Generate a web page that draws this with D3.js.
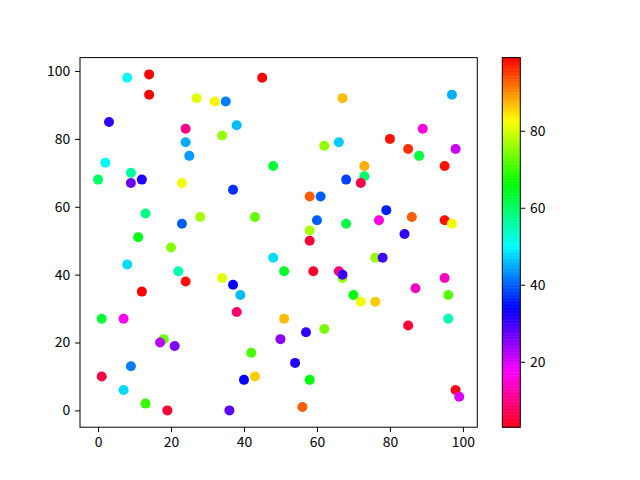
<!DOCTYPE html>
<html>
<head>
<meta charset="utf-8">
<script src="https://cdn.jsdelivr.net/npm/d3@7"></script>
<style>
  body { margin: 0; background: #fff; }
  svg text { font-family: "Noto Sans CJK SC", "Noto Sans", sans-serif; font-size: 13.9px; fill: #000; }
</style>
</head>
<body>
<div id="chart"></div>
<script>
// scatter values
const xs = [8, 14, 14, 45, 27, 32, 35, 3, 24, 38, 34, 24, 25, 2, 48, 0, 9, 9, 12, 23,
  37, 13, 23, 28, 43, 11, 20, 67, 97, 89, 62, 66, 80, 85, 88, 98, 95, 73, 73, 68,
  72, 58, 61, 79, 86, 60, 68, 77, 95, 97, 84, 58, 58, 8, 48, 22, 24, 34, 37, 39,
  12, 1, 7, 38, 18, 17, 21, 42, 9, 1, 40, 43, 7, 13, 19, 36, 50, 51, 51, 59,
  67, 66, 67, 76, 78, 95, 87, 96, 70, 72, 76, 96, 85, 62, 57, 54, 58, 56, 98, 99];
const ys = [98, 99, 93, 98, 92, 91, 91, 85, 83, 84, 81, 79, 75, 73, 72, 68, 70, 67, 68, 67,
  65, 58, 55, 57, 57, 51, 48, 92, 93, 83, 78, 79, 80, 77, 75, 77, 72, 72, 69, 68,
  67, 63, 63, 59, 57, 56, 55, 56, 56, 55, 52, 53, 50, 43, 45, 41, 38, 39, 37, 34,
  35, 27, 27, 29, 21, 20, 19, 17, 13, 10, 9, 10, 6, 2, 0, 0, 21, 27, 41, 41,
  39, 41, 40, 45, 45, 39, 36, 34, 34, 32, 32, 27, 25, 24, 23, 14, 9, 1, 6, 4];
const cs = [51, 99, 99, 99, 81, 83, 42, 31, 10, 46, 76, 45, 44, 50, 63, 60, 56, 27, 32, 82,
  37, 58, 40, 77, 73, 65, 75, 87, 45, 16, 76, 47, 98, 96, 63, 21, 98, 88, 60, 38,
  6, 93, 40, 36, 93, 40, 62, 16, 98, 82, 31, 77, 5, 48, 48, 55, 98, 81, 34, 46,
  99, 63, 17, 8, 73, 22, 26, 71, 42, 6, 34, 86, 48, 70, 5, 28, 25, 87, 64, 4,
  76, 9, 30, 76, 30, 14, 14, 72, 66, 82, 86, 55, 5, 74, 31, 32, 66, 93, 3, 20];
const xTicks = [0, 20, 40, 60, 80, 100];
const yTicks = [0, 20, 40, 60, 80, 100];
const cTicks = [20, 40, 60, 80];

// matplotlib "hsv" segment data, used reversed
const hsvSeg = {
  r: [[0, 1], [0.158730, 1], [0.174603, 0.96875], [0.333333, 0.03125], [0.349206, 0], [0.666667, 0], [0.682540, 0.03125], [0.841270, 0.96875], [0.857143, 1], [1, 1]],
  g: [[0, 0], [0.158730, 0.9375], [0.174603, 1], [0.507937, 1], [0.666667, 0.0625], [0.682540, 0], [1, 0]],
  b: [[0, 0], [0.333333, 0], [0.349206, 0.0625], [0.507937, 1], [0.841270, 1], [0.857143, 0.9375], [1, 0.09375]]
};
function segVal(seg, t) {
  for (let i = 1; i < seg.length; i++) {
    if (t <= seg[i][0]) {
      const [x0, y0] = seg[i - 1], [x1, y1] = seg[i];
      return y0 + (y1 - y0) * (t - x0) / (x1 - x0);
    }
  }
  return seg[seg.length - 1][1];
}
function hsvR(t) {
  const u = 1 - Math.max(0, Math.min(1, t));
  return d3.rgb(segVal(hsvSeg.r, u) * 255, segVal(hsvSeg.g, u) * 255, segVal(hsvSeg.b, u) * 255).formatHex();
}

const W = 640, H = 480;
const ax = { left: 80, right: 477.3, top: 57.6, bottom: 427.2 };
const cb = { left: 502.3, right: 520.3 };

const svg = d3.select("#chart").append("svg").attr("width", W).attr("height", H);

const pad = (99 - 0) * 0.05;
const x = d3.scaleLinear().domain([0 - pad, 99 + pad]).range([ax.left, ax.right]);
const y = d3.scaleLinear().domain([0 - pad, 99 + pad]).range([ax.bottom, ax.top]);
const cMin = d3.min(cs), cMax = d3.max(cs);
const norm = d3.scaleLinear().domain([cMin, cMax]).range([0, 1]);
const cy = d3.scaleLinear().domain([cMin, cMax]).range([ax.bottom, ax.top]);

const points = xs.map((d, i) => ({ x: d, y: ys[i], c: cs[i] }));

svg.append("g")
  .selectAll("circle")
  .data(points)
  .enter()
  .append("circle")
  .attr("cx", (d) => x(d.x))
  .attr("cy", (d) => y(d.y))
  .attr("r", 5)
  .attr("fill", (d) => hsvR(norm(d.c)));

// axes frame
svg.append("rect")
  .attr("x", ax.left).attr("y", ax.top)
  .attr("width", ax.right - ax.left).attr("height", ax.bottom - ax.top)
  .attr("fill", "none").attr("stroke", "#000").attr("stroke-width", 1);

const xAxis = svg.append("g")
  .attr("transform", `translate(0, ${ax.bottom})`)
  .call(d3.axisBottom(x).tickValues(xTicks).tickSize(4.9).tickPadding(4.9).tickFormat(d3.format("d")));
const yAxis = svg.append("g")
  .attr("transform", `translate(${ax.left}, 0)`)
  .call(d3.axisLeft(y).tickValues(yTicks).tickSize(4.9).tickPadding(4.9).tickFormat(d3.format("d")));

// colorbar
const steps = d3.range(256);
const stepH = (ax.bottom - ax.top) / 256;
svg.append("g")
  .selectAll("rect")
  .data(steps)
  .enter()
  .append("rect")
  .attr("x", cb.left)
  .attr("y", (d) => ax.bottom - (d + 1) * stepH)
  .attr("width", cb.right - cb.left)
  .attr("height", stepH + 0.5)
  .attr("fill", (d) => hsvR((d + 0.5) / 256));
svg.append("rect")
  .attr("x", cb.left).attr("y", ax.top)
  .attr("width", cb.right - cb.left).attr("height", ax.bottom - ax.top)
  .attr("fill", "none").attr("stroke", "#000").attr("stroke-width", 1);
const cAxis = svg.append("g")
  .attr("transform", `translate(${cb.right}, 0)`)
  .call(d3.axisRight(cy).tickValues(cTicks).tickSize(4.9).tickPadding(4.9).tickFormat(d3.format("d")));

[xAxis, yAxis, cAxis].forEach((g) => {
  g.select(".domain").remove();
  g.selectAll("line").attr("stroke", "#000").attr("stroke-width", 1);
  g.selectAll("text").style("font-family", '"Noto Sans CJK SC", "Noto Sans", sans-serif').style("font-size", "13.9px");
});
</script>
</body>
</html>
